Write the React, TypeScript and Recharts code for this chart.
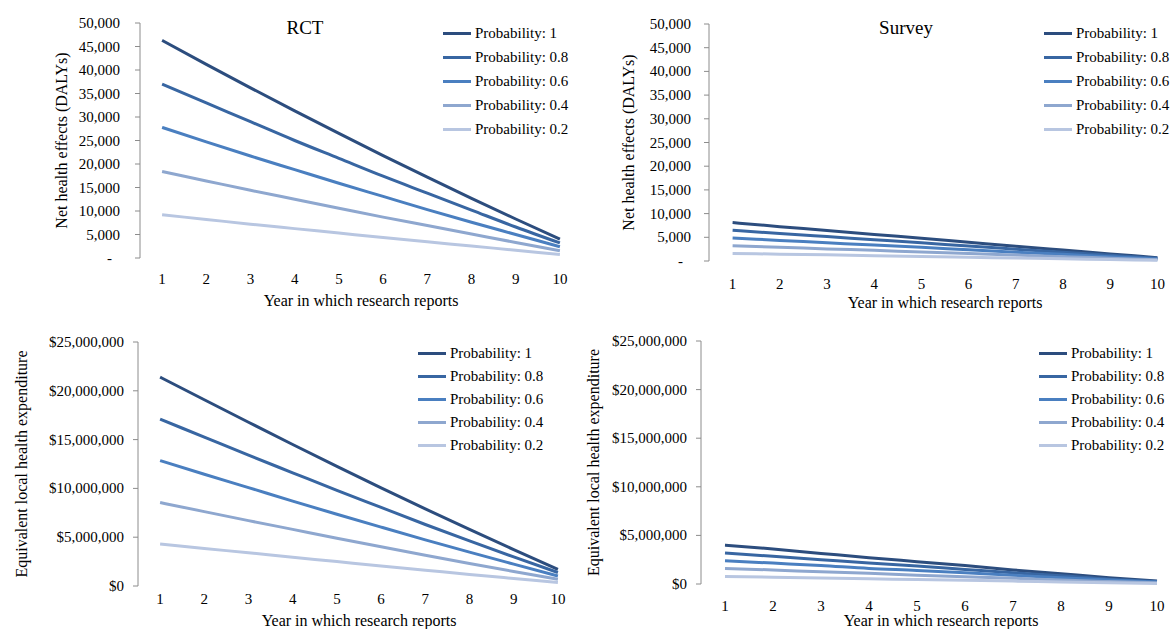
import React from 'react';
import { LineChart, Line, XAxis, YAxis, Legend } from 'recharts';

const font = "'Liberation Serif', 'DejaVu Serif', serif";
const axisGray = '#8c8c8c';

const years = [1, 2, 3, 4, 5, 6, 7, 8, 9, 10];
const yearBoundaries = [0.5, 1.5, 2.5, 3.5, 4.5, 5.5, 6.5, 7.5, 8.5, 9.5, 10.5];
const probabilities = ['1', '0.8', '0.6', '0.4', '0.2'];
const lineColors = ['#2c4d7e', '#3866a2', '#4a7fc0', '#8ea7cf', '#b8c6e1'];

const dalyTicks = [0, 5000, 10000, 15000, 20000, 25000, 30000, 35000, 40000, 45000, 50000];
const dollarTicks = [0, 5000000, 10000000, 15000000, 20000000, 25000000];

// RCT - net health effects (DALYs)
const rctDalyP1 = [46300, 41200, 36200, 31300, 26500, 21800, 17200, 12700, 8300, 4000];
const rctDalyP08 = [37000, 33000, 29000, 25000, 21200, 17400, 13800, 10200, 6600, 3200];
const rctDalyP06 = [27800, 24700, 21700, 18800, 15900, 13100, 10300, 7600, 5000, 2400];
const rctDalyP04 = [18400, 16400, 14400, 12500, 10600, 8700, 6900, 5100, 3300, 1550];
const rctDalyP02 = [9200, 8200, 7200, 6250, 5300, 4350, 3450, 2550, 1650, 750];

// Survey - net health effects (DALYs)
const surveyDalyP1 = [8100, 7250, 6450, 5600, 4800, 3950, 3100, 2300, 1500, 700];
const surveyDalyP08 = [6500, 5800, 5150, 4500, 3850, 3150, 2500, 1850, 1200, 560];
const surveyDalyP06 = [4850, 4350, 3850, 3350, 2900, 2350, 1850, 1400, 900, 420];
const surveyDalyP04 = [3200, 2900, 2550, 2250, 1900, 1600, 1250, 900, 600, 280];
const surveyDalyP02 = [1600, 1450, 1300, 1100, 950, 800, 620, 460, 300, 140];

// RCT - equivalent local health expenditure
const rctSpendP1 = [21400000, 19080000, 16780000, 14500000, 12250000, 10050000, 7900000, 5800000, 3730000, 1700000];
const rctSpendP08 = [17100000, 15250000, 13400000, 11600000, 9800000, 8050000, 6300000, 4620000, 2980000, 1380000];
const rctSpendP06 = [12850000, 11450000, 10080000, 8700000, 7350000, 6030000, 4730000, 3470000, 2240000, 1020000];
const rctSpendP04 = [8550000, 7620000, 6700000, 5800000, 4900000, 4020000, 3150000, 2310000, 1490000, 690000];
const rctSpendP02 = [4300000, 3850000, 3400000, 2950000, 2500000, 2050000, 1620000, 1190000, 770000, 350000];

// Survey - equivalent local health expenditure
const surveySpendP1 = [4000000, 3600000, 3150000, 2700000, 2300000, 1900000, 1450000, 1050000, 650000, 300000];
const surveySpendP08 = [3200000, 2850000, 2500000, 2150000, 1850000, 1500000, 1150000, 850000, 500000, 250000];
const surveySpendP06 = [2400000, 2150000, 1900000, 1600000, 1400000, 1150000, 900000, 650000, 400000, 200000];
const surveySpendP04 = [1600000, 1450000, 1250000, 1100000, 900000, 750000, 600000, 400000, 250000, 120000];
const surveySpendP02 = [780000, 700000, 620000, 540000, 460000, 380000, 300000, 210000, 130000, 60000];

function buildRows(series: number[][]) {
  return years.map((year, i) => {
    const row: any = { year };
    series.forEach((s, j) => {
      row['p' + j] = s[i];
    });
    return row;
  });
}

const formatDaly = (v: number) => (v === 0 ? '-' : v.toLocaleString('en-US'));
const formatDollar = (v: number) => '$' + v.toLocaleString('en-US');

const YTick = (props: any) => {
  const { x, y, payload, format } = props;
  const text = format(payload.value);
  return (
    <text
      x={text === '-' ? x - 8 : x}
      y={y}
      textAnchor="end"
      dominantBaseline="central"
      fontSize={15}
      fontFamily={font}
      fill="#000"
    >
      {text}
    </text>
  );
};

const LegendBox = ({ rowHeight }: { rowHeight: number }) => (
  <div style={{ fontFamily: font, fontSize: 15, color: '#000' }}>
    {probabilities.map((p, i) => (
      <div key={p} style={{ display: 'flex', alignItems: 'center', height: rowHeight, whiteSpace: 'nowrap' }}>
        <span style={{ display: 'inline-block', width: 28, height: 3, background: lineColors[i], marginRight: 4 }} />
        <span style={{ lineHeight: 1 }}>Probability: {p}</span>
      </div>
    ))}
  </div>
);

interface PanelProps {
  left: number;
  top: number;
  width: number;
  height: number;
  margin: { top: number; right: number; bottom: number; left: number };
  yAxisWidth: number;
  rows: any[];
  yTicks: number[];
  format: (v: number) => string;
  yTickGap: number;
  yTitle: string;
  yTitleX: number;
  xAxisHeight: number;
  xTickMargin: number;
  xTitleBaseline: number;
  legendLeft: number;
  legendTop: number;
  legendRow: number;
  title?: string;
  titleX?: number;
}

const Panel = (p: PanelProps) => (
  <div style={{ position: 'absolute', left: p.left, top: p.top }}>
    <LineChart width={p.width} height={p.height} data={p.rows} margin={p.margin}>
      <XAxis
        xAxisId="grid"
        dataKey="year"
        type="number"
        domain={[0.5, 10.5]}
        allowDataOverflow
        ticks={yearBoundaries}
        tick={false}
        tickSize={5}
        height={0}
        stroke={axisGray}
      />
      <XAxis
        xAxisId="labels"
        dataKey="year"
        type="number"
        domain={[0.5, 10.5]}
        allowDataOverflow
        ticks={years}
        interval={0}
        axisLine={false}
        tickLine={false}
        tickSize={0}
        tickMargin={p.xTickMargin}
        height={p.xAxisHeight}
        tick={{ fontSize: 15, fontFamily: font, fill: '#000' }}
        label={{
          content: (props: any) => {
            const vb = props.viewBox;
            return (
              <text x={vb.x + vb.width / 2} y={vb.y + p.xTitleBaseline} textAnchor="middle" fontSize={16} fontFamily={font} fill="#000">
                Year in which research reports
              </text>
            );
          },
        }}
      />
      <YAxis
        type="number"
        domain={[0, p.yTicks[p.yTicks.length - 1]]}
        ticks={p.yTicks}
        interval={0}
        width={p.yAxisWidth}
        stroke={axisGray}
        tickSize={5}
        tickMargin={p.yTickGap}
        tick={<YTick format={p.format} />}
        label={{
          content: (props: any) => {
            const vb = props.viewBox;
            const cx = vb.x + p.yTitleX;
            const cy = vb.y + vb.height / 2;
            return (
              <text
                x={cx}
                y={cy}
                transform={`rotate(-90, ${cx}, ${cy})`}
                textAnchor="middle"
                dominantBaseline="central"
                fontSize={16}
                fontFamily={font}
                fill="#000"
              >
                {p.yTitle}
              </text>
            );
          },
        }}
      />
      <Legend
        layout="vertical"
        align="center"
        verticalAlign="middle"
        wrapperStyle={{ left: p.legendLeft, top: p.legendTop, width: 'auto' }}
        content={() => <LegendBox rowHeight={p.legendRow} />}
      />
      {probabilities.map((prob, i) => (
        <Line
          key={prob}
          xAxisId="labels"
          type="monotone"
          dataKey={'p' + i}
          name={'Probability: ' + prob}
          stroke={lineColors[i]}
          strokeWidth={3}
          dot={false}
          isAnimationActive={false}
        />
      ))}
    </LineChart>
    {p.title && (
      <div
        style={{
          position: 'absolute',
          left: (p.titleX || 0) - 60,
          top: 17,
          width: 120,
          textAlign: 'center',
          fontFamily: font,
          fontSize: 19,
          color: '#000',
        }}
      >
        {p.title}
      </div>
    )}
  </div>
);

export default function App() {
  const rctDaly = buildRows([rctDalyP1, rctDalyP08, rctDalyP06, rctDalyP04, rctDalyP02]);
  const surveyDaly = buildRows([surveyDalyP1, surveyDalyP08, surveyDalyP06, surveyDalyP04, surveyDalyP02]);
  const rctSpend = buildRows([rctSpendP1, rctSpendP08, rctSpendP06, rctSpendP04, rctSpendP02]);
  const surveySpend = buildRows([surveySpendP1, surveySpendP08, surveySpendP06, surveySpendP04, surveySpendP02]);

  return (
    <div style={{ position: 'absolute', left: 0, top: 0, width: 1175, height: 629, overflow: 'hidden', background: '#fff' }}>
      <Panel
        left={0}
        top={0}
        width={600}
        height={320}
        margin={{ top: 23, right: 18, bottom: 12, left: 0 }}
        yAxisWidth={140}
        rows={rctDaly}
        yTicks={dalyTicks}
        format={formatDaly}
        yTickGap={15}
        yTitle="Net health effects (DALYs)"
        yTitleX={61}
        xAxisHeight={50}
        xTickMargin={15}
        xTitleBaseline={48}
        legendLeft={443}
        legendTop={21}
        legendRow={24}
        title="RCT"
        titleX={305}
      />
      <Panel
        left={570}
        top={0}
        width={640}
        height={320}
        margin={{ top: 24, right: 29, bottom: 9, left: 0 }}
        yAxisWidth={139}
        rows={surveyDaly}
        yTicks={dalyTicks}
        format={formatDaly}
        yTickGap={13}
        yTitle="Net health effects (DALYs)"
        yTitleX={58}
        xAxisHeight={50}
        xTickMargin={17}
        xTitleBaseline={46.5}
        legendLeft={474}
        legendTop={21}
        legendRow={24}
        title="Survey"
        titleX={336}
      />
      <Panel
        left={0}
        top={320}
        width={600}
        height={309}
        margin={{ top: 22, right: 20, bottom: 3, left: 0 }}
        yAxisWidth={138}
        rows={rctSpend}
        yTicks={dollarTicks}
        format={formatDollar}
        yTickGap={9}
        yTitle="Equivalent local health expenditure"
        yTitleX={21}
        xAxisHeight={40}
        xTickMargin={7}
        xTitleBaseline={40}
        legendLeft={418}
        legendTop={21.5}
        legendRow={23}
      />
      <Panel
        left={570}
        top={320}
        width={640}
        height={309}
        margin={{ top: 21, right: 29, bottom: 5, left: 0 }}
        yAxisWidth={131}
        rows={surveySpend}
        yTicks={dollarTicks}
        format={formatDollar}
        yTickGap={9}
        yTitle="Equivalent local health expenditure"
        yTitleX={23}
        xAxisHeight={40}
        xTickMargin={16}
        xTitleBaseline={42}
        legendLeft={469}
        legendTop={21.5}
        legendRow={23}
      />
    </div>
  );
}
